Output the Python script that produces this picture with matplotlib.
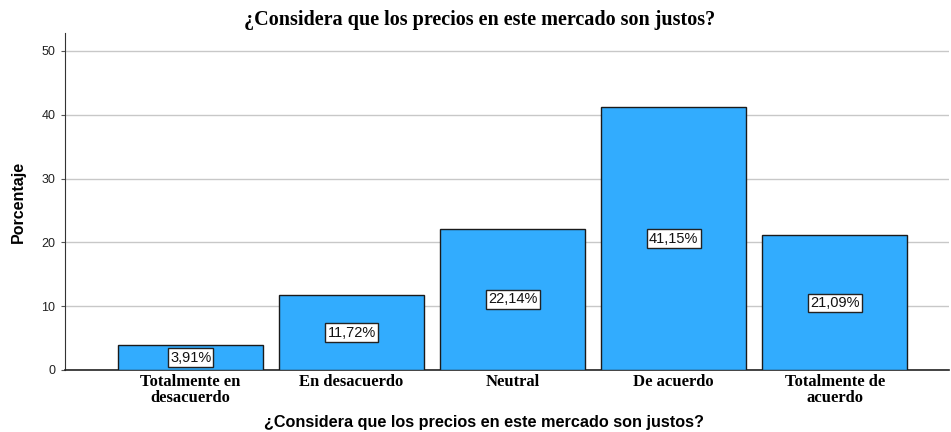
import matplotlib.pyplot as plt

categories = ["Totalmente en\ndesacuerdo", "En desacuerdo", "Neutral", "De acuerdo", "Totalmente de\nacuerdo"]
values = [3.91, 11.72, 22.14, 41.15, 21.09]
yticks = [0, 10, 20, 30, 40, 50]

fig = plt.figure(figsize=(9.51, 4.32), dpi=100)
ax = fig.add_axes([65 / 951, (432 - 370) / 432, (949 - 65) / 951, (370 - 33) / 432])

x = range(len(values))
ax.bar(x, values, width=0.9, color="#32acfe", edgecolor="#1a1a1a", linewidth=1, zorder=3)

for xi, v in zip(x, values):
    ax.text(xi, v / 2, f"{v:.2f}%".replace(".", ","), ha="center", va="center",
            fontsize=10.5, family="Liberation Sans", color="#111111", zorder=4,
            bbox=dict(boxstyle="square,pad=0.15", fc="white", ec="#222222", lw=1))

ax.set_xlim(-0.78, 4.71)
ax.set_ylim(0, 52.8)
ax.set_yticks(yticks)
ax.set_yticklabels([str(t) for t in yticks], family="Liberation Sans", fontsize=9, color="#222222")
ax.set_xticks(list(x))
ax.set_xticklabels(categories, family="Liberation Serif", fontweight="bold", fontsize=12,
                   linespacing=0.95)
ax.tick_params(axis="x", length=0, pad=3)
ax.tick_params(axis="y", length=3, width=0.8, color="#555555", pad=4)

ax.grid(axis="y", color="#c8c8c8", linewidth=1, zorder=0)
for s in ["top", "right"]:
    ax.spines[s].set_visible(False)
ax.spines["left"].set_color("#333333")
ax.spines["bottom"].set_color("#222222")
ax.spines["bottom"].set_linewidth(1.2)

ax.set_ylabel("Porcentaje", family="Liberation Sans", fontweight="bold", fontsize=11.5, labelpad=11)
fig.text(484 / 951, 1 - 423 / 432, "¿Considera que los precios en este mercado son justos?",
         ha="center", va="center", family="Liberation Sans", fontweight="bold", fontsize=11.7)
fig.text(480 / 951, 1 - 20 / 432, "¿Considera que los precios en este mercado son justos?",
         ha="center", va="center", family="Liberation Serif", fontweight="bold", fontsize=14.5)

fig.savefig("out.png", dpi=100)
